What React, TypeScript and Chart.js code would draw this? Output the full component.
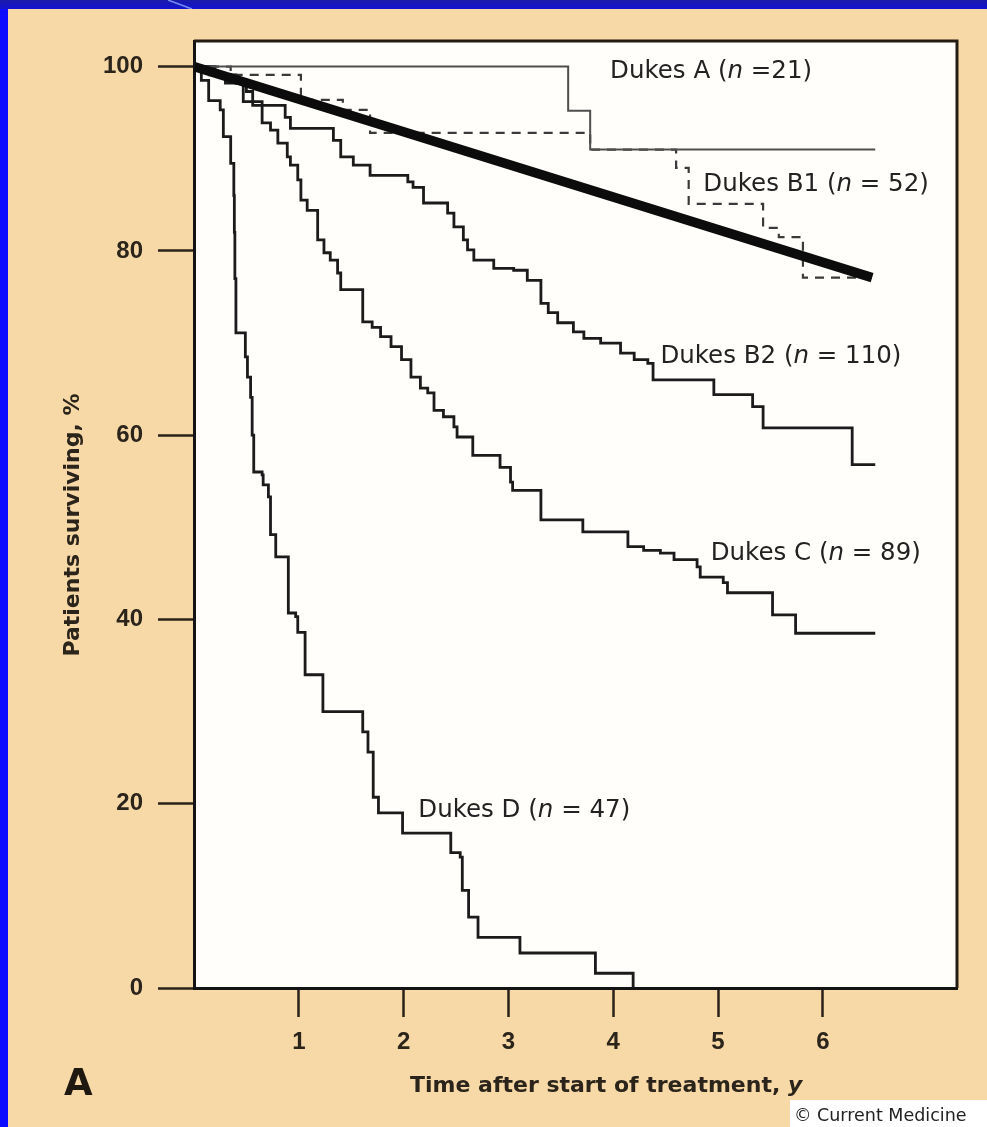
import { useEffect, useRef } from "react";
import { Chart, registerables } from "chart.js";

Chart.register(...registerables);

// ---- data (years, % surviving) ----
const xTickValues = [1, 2, 3, 4, 5, 6];
const yTickValues = [0, 20, 40, 60, 80, 100];

const expectedTime = [0, 6.47];
const expectedSurv = [100, 77.1];

const dukesATime = [0, 3.57, 3.78, 6.5];
const dukesASurv = [100, 95.2, 91.0, 91.0];

const dukesB1Time = [0, 0.35, 1.02, 1.42, 1.68, 3.78, 4.6, 4.72, 5.43, 5.58, 5.81, 6.5];
const dukesB1Surv = [100, 99.1, 96.4, 95.3, 92.8, 91.0, 89.0, 85.1, 82.5, 81.5, 77.1, 77.1];

const dukesB2Time = [0, 0.2, 0.4, 0.5, 0.56, 0.87, 0.92, 1.33, 1.4, 1.52, 1.68, 2.04, 2.09, 2.19, 2.42, 2.48, 2.57, 2.61, 2.67, 2.86, 3.05, 3.18, 3.31, 3.38, 3.47, 3.62, 3.72, 3.88, 4.07, 4.2, 4.33, 4.38, 4.96, 5.33, 5.43, 6.28, 6.5];
const dukesB2Surv = [100, 99.1, 98.2, 97.3, 95.8, 94.5, 93.3, 92.0, 90.2, 89.3, 88.2, 87.5, 86.9, 85.2, 84.1, 82.6, 81.2, 80.1, 79.0, 78.1, 77.9, 76.8, 74.3, 73.3, 72.2, 71.2, 70.5, 70.0, 68.9, 68.2, 67.8, 66.0, 64.4, 63.1, 60.8, 56.8, 56.8];

const dukesCTime = [0, 0.15, 0.3, 0.47, 0.65, 0.73, 0.8, 0.89, 0.92, 0.99, 1.02, 1.08, 1.18, 1.24, 1.3, 1.37, 1.4, 1.61, 1.7, 1.78, 1.88, 1.98, 2.07, 2.16, 2.23, 2.29, 2.38, 2.48, 2.51, 2.66, 2.92, 3.02, 3.04, 3.31, 3.71, 4.14, 4.29, 4.45, 4.58, 4.8, 4.83, 5.05, 5.09, 5.52, 5.74, 6.5];
const dukesCSurv = [100, 99.1, 98.2, 96.2, 93.9, 93.1, 91.7, 90.2, 89.3, 87.7, 85.5, 84.4, 81.2, 79.8, 79.0, 77.6, 75.8, 72.3, 71.7, 70.7, 69.6, 68.2, 66.3, 65.1, 64.6, 62.7, 62.0, 60.9, 59.8, 57.8, 56.5, 54.9, 54.0, 50.8, 49.5, 47.9, 47.5, 47.2, 46.5, 45.7, 44.6, 44.0, 42.9, 40.5, 38.5, 38.5];

const dukesDTime = [0, 0.07, 0.14, 0.25, 0.28, 0.35, 0.38, 0.385, 0.39, 0.4, 0.49, 0.51, 0.54, 0.555, 0.57, 0.65, 0.66, 0.71, 0.73, 0.78, 0.9, 0.97, 0.99, 1.06, 1.23, 1.61, 1.66, 1.71, 1.76, 1.99, 2.45, 2.54, 2.56, 2.62, 2.71, 3.11, 3.83, 4.19];
const dukesDSurv = [100, 98.5, 96.3, 95.3, 92.4, 89.5, 86.0, 82.0, 77.0, 71.1, 68.5, 66.3, 64.1, 60.0, 56.0, 55.7, 54.6, 53.3, 49.2, 46.8, 40.7, 40.3, 38.6, 34.0, 30.0, 27.8, 25.6, 20.7, 19.0, 16.8, 14.7, 14.2, 10.6, 7.7, 5.5, 3.8, 1.6, 0];

const curveNames = ["Dukes A", "Dukes B1", "Dukes B2", "Dukes C", "Dukes D"];
const curveCounts = [" =21)", " = 52)", " = 110)", " = 89)", " = 47)"];
// label anchors in data units (left edge, vertical centre)
const labelAnchorT = [3.97, 4.86, 4.45, 4.93, 2.14];
const labelAnchorS = [99.7, 87.5, 68.8, 47.4, 19.5];

const X_MAX = 7.28;
const Y_MAX = 102.78;

const BEIGE = "#f7d9a7";
const INK = "#2b241b";

const toPts = (t: number[], s: number[]) => t.map((x, i) => ({ x, y: s[i] }));

const decor = {
  id: "decor",
  beforeDraw(chart: any) {
    const { ctx, chartArea: a, width, height } = chart;
    ctx.save();
    ctx.fillStyle = "#0b0bff";
    ctx.fillRect(0, 0, width, height);
    const g = ctx.createLinearGradient(0, 0, 0, 10);
    g.addColorStop(0, "#1a1aa8");
    g.addColorStop(1, "#1212d8");
    ctx.fillStyle = g;
    ctx.fillRect(0, 0, width, 9);
    ctx.strokeStyle = "rgba(140,170,255,0.8)";
    ctx.lineWidth = 1.5;
    ctx.beginPath();
    ctx.moveTo(168, 0);
    ctx.lineTo(192, 9);
    ctx.stroke();
    ctx.fillStyle = BEIGE;
    ctx.fillRect(8, 9, width - 8, height - 9);
    ctx.fillStyle = "#fffefb";
    ctx.fillRect(a.left, a.top, a.right - a.left, a.bottom - a.top);
    ctx.restore();
  },
  afterDraw(chart: any) {
    const { ctx, chartArea: a, scales } = chart;
    ctx.save();
    // top and right frame
    ctx.strokeStyle = "#241c12";
    ctx.lineWidth = 3;
    ctx.beginPath();
    ctx.moveTo(a.left, a.top);
    ctx.lineTo(a.right, a.top);
    ctx.lineTo(a.right, a.bottom);
    ctx.stroke();

    // curve labels
    const size = 24.5;
    ctx.fillStyle = "#222";
    ctx.textBaseline = "alphabetic";
    ctx.textAlign = "left";
    for (let i = 0; i < curveNames.length; i++) {
      let x = scales.x.getPixelForValue(labelAnchorT[i]);
      const y = scales.y.getPixelForValue(labelAnchorS[i]) + 9;
      ctx.font = `${size}px "DejaVu Sans"`;
      const p1 = curveNames[i] + " (";
      ctx.fillText(p1, x, y);
      x += ctx.measureText(p1).width;
      ctx.font = `italic ${size}px "DejaVu Sans"`;
      ctx.fillText("n", x, y);
      x += ctx.measureText("n").width;
      ctx.font = `${size}px "DejaVu Sans"`;
      ctx.fillText(curveCounts[i], x, y);
    }

    // x title
    ctx.fillStyle = INK;
    ctx.font = 'bold 22px "DejaVu Sans"';
    const xt = "Time after start of treatment, ";
    ctx.fillText(xt, 410, 1092);
    const w = ctx.measureText(xt).width;
    ctx.font = 'italic bold 22px "DejaVu Sans"';
    ctx.fillText("y", 410 + w, 1092);

    // y title
    ctx.save();
    ctx.translate(79, 525);
    ctx.rotate(-Math.PI / 2);
    ctx.textAlign = "center";
    ctx.font = 'bold 22px "DejaVu Sans"';
    ctx.fillText("Patients surviving, %", 0, 0);
    ctx.restore();

    // panel letter
    ctx.font = 'bold 37px "DejaVu Sans"';
    ctx.fillStyle = "#1e1810";
    ctx.fillText("A", 64, 1095);

    // copyright box
    ctx.fillStyle = "#ffffff";
    ctx.fillRect(790, 1100, 197, 27);
    ctx.fillStyle = "#222";
    ctx.font = '17.5px "DejaVu Sans"';
    ctx.fillText("\u00a9 Current Medicine", 794, 1121);
    ctx.restore();
  },
};

export default function App() {
  const ref = useRef<HTMLCanvasElement>(null);

  useEffect(() => {
    const canvas = ref.current;
    if (!canvas) return;
    const curve = (label: string, t: number[], s: number[], extra: any) => ({
      label,
      data: toPts(t, s),
      pointRadius: 0,
      fill: false,
      stepped: "before",
      borderJoinStyle: "miter",
      borderCapStyle: "butt",
      ...extra,
    });
    const chart = new Chart(canvas, {
      type: "line",
      data: {
        datasets: [
          {
            label: "Expected",
            data: toPts(expectedTime, expectedSurv),
            pointRadius: 0,
            fill: false,
            borderColor: "#0c0c0c",
            borderWidth: 9.5,
            borderCapStyle: "butt",
          },
          curve("Dukes A", dukesATime, dukesASurv, { borderColor: "#4e4e4e", borderWidth: 2 }),
          curve("Dukes B1", dukesB1Time, dukesB1Surv, { borderColor: "#3a3a3a", borderWidth: 2.2, borderDash: [9, 7] }),
          curve("Dukes B2", dukesB2Time, dukesB2Surv, { borderColor: "#1b1b1b", borderWidth: 2.8 }),
          curve("Dukes C", dukesCTime, dukesCSurv, { borderColor: "#1b1b1b", borderWidth: 2.8 }),
          curve("Dukes D", dukesDTime, dukesDSurv, { borderColor: "#1b1b1b", borderWidth: 2.8 }),
        ] as any,
      },
      options: {
        responsive: false,
        animation: false,
        events: [],
        layout: { padding: { left: 0, top: 41, right: 30, bottom: 0 } },
        plugins: { legend: { display: false }, tooltip: { enabled: false }, title: { display: false } },
        scales: {
          x: {
            type: "linear",
            min: 0,
            max: X_MAX,
            afterBuildTicks: (s: any) => {
              s.ticks = xTickValues.map((v) => ({ value: v }));
            },
            afterFit: (s: any) => {
              s.height = 139;
            },
            grid: { display: true, drawOnChartArea: false, drawTicks: true, tickLength: 29, tickWidth: 2.5, tickColor: "#2a2118" },
            border: { display: true, color: "#141414", width: 3 },
            ticks: {
              font: { family: "Liberation Sans", weight: "bold", size: 24 },
              color: INK,
              padding: 11,
              maxRotation: 0,
              autoSkip: false,
            },
          },
          y: {
            type: "linear",
            min: 0,
            max: Y_MAX,
            afterBuildTicks: (s: any) => {
              s.ticks = yTickValues.map((v) => ({ value: v }));
            },
            afterFit: (s: any) => {
              s.width = 194;
            },
            grid: { display: true, drawOnChartArea: false, drawTicks: true, tickLength: 36, tickWidth: 2.5, tickColor: "#2a2118" },
            border: { display: true, color: "#141414", width: 3 },
            ticks: {
              font: { family: "Liberation Sans", weight: "bold", size: 24 },
              color: INK,
              padding: 15,
              autoSkip: false,
            },
          },
        },
      } as any,
      plugins: [decor],
    });
    return () => chart.destroy();
  }, []);

  return (
    <div style={{ position: "fixed", left: 0, top: 0, width: 987, height: 1127, overflow: "hidden" }}>
      <canvas ref={ref} width={987} height={1127} style={{ display: "block", width: 987, height: 1127 }} />
    </div>
  );
}
